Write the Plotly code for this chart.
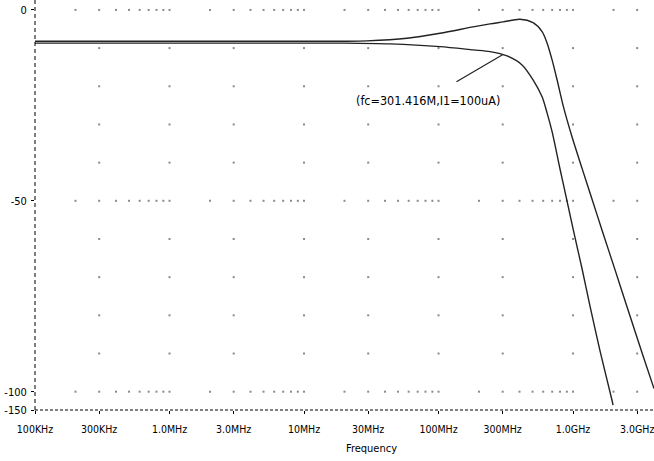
import math
import plotly.graph_objects as go

# Frequency response of the filter, two bias settings (dB vs Hz)
freq_peak = [1e5, 1e6, 1e7, 20e6, 29.4e6, 58.3e6, 102.6e6, 180.7e6, 241.5e6, 302e6,
             403.7e6, 504.5e6, 588.8e6, 641e6, 698.8e6, 760.8e6, 843.3e6, 984e6,
             1.167e9, 1.385e9, 1.671e9, 2.053e9, 2.653e9, 3.314e9, 4.0e9]
gain_peak = [-8.2, -8.2, -8.2, -8.2, -8.1, -7.41, -6.10, -4.45, -3.66, -3.14,
             -2.43, -3.35, -5.68, -8.64, -13.09, -18.3, -25.0, -33.3,
             -41.5, -49.6, -58.5, -68.1, -80.2, -90.6, -99.2]

freq_fc = [1e5, 1e6, 1e7, 20e6, 43.6e6, 102.6e6, 180.7e6, 241.5e6, 323e6, 417.9e6,
           504.5e6, 588.8e6, 641e6, 698.8e6, 799.6e6, 901.9e6, 1.0e9, 1.167e9,
           1.336e9, 1.587e9, 1.951e9, 1.983e9]
gain_fc = [-8.7, -8.7, -8.7, -8.7, -8.9, -9.61, -10.47, -10.92, -12.04, -14.40,
           -18.32, -22.77, -26.96, -31.9, -41.6, -50.0, -57.3, -67.8,
           -77.5, -89.3, -102.3, -103.5]

# Marker annotation on the fc curve
fc_freq = 301.416e6
fc_gain = -11.7
fc_text = "(fc=301.416M,I1=100uA)"

# Axis ticks
x_tickvals = [1e5, 3e5, 1e6, 3e6, 1e7, 3e7, 1e8, 3e8, 1e9, 3e9]
x_ticktext = ["100KHz", "300KHz", "1.0MHz", "3.0MHz", "10MHz", "30MHz",
              "100MHz", "300MHz", "1.0GHz", "3.0GHz"]
y_bottom = -104.8
y_top = 2.6
y_tickvals = [0, -50, -100, y_bottom]
y_ticktext = ["0", "-50", "-100", "-150"]
x_title = "Frequency"

LOG_MIN, LOG_MAX = 5.0, 9.602

# Dotted grid: major columns on every 10 dB row, all decade steps on 0/-50/-100
grid_x, grid_y = [], []
for row in range(0, -101, -10):
    full = row in (0, -50, -100)
    for dec in range(5, 10):
        mults = range(1, 10) if full else (1, 3)
        for m in mults:
            f = m * 10 ** dec
            if f <= 1e5 or f > 10 ** LOG_MAX:
                continue
            grid_x.append(f)
            grid_y.append(row)

font_family = "Liberation Sans Narrow, DejaVu Sans Condensed, Liberation Sans, Arial"

fig = go.Figure()
fig.add_trace(go.Scatter(x=grid_x, y=grid_y, mode="markers",
                         marker=dict(symbol="square", size=2, color="#8a8a8a", line=dict(width=0)),
                         hoverinfo="skip", showlegend=False))
for fx, gy in ((freq_peak, gain_peak), (freq_fc, gain_fc)):
    fig.add_trace(go.Scatter(x=fx, y=gy, mode="lines",
                             line=dict(color="#222222", width=1.4, shape="spline", smoothing=0.8),
                             showlegend=False))

# dashed axis lines
fig.add_shape(type="line", xref="paper", yref="paper", x0=0, x1=0, y0=0, y1=1,
              line=dict(color="black", width=1, dash="4px,3px"))
fig.add_shape(type="line", xref="paper", yref="paper", x0=0, x1=1, y0=0, y1=0,
              line=dict(color="black", width=1, dash="3px,2px"))
fig.add_shape(type="line", xref="paper", yref="paper", x0=-0.044, x1=-0.034, y0=1.004, y1=1.004,
              line=dict(color="black", width=2))

fig.add_annotation(x=math.log10(fc_freq), y=fc_gain, xref="x", yref="y", text="",
                   showarrow=True, arrowhead=0, arrowwidth=1.2, arrowcolor="#222222",
                   ax=-48, ay=28, standoff=0)
fig.add_annotation(x=7.925, y=-23.6, xref="x", yref="y", text=fc_text, showarrow=False,
                   font=dict(family=font_family, size=12.5, color="black"))
fig.add_annotation(x=0.543, y=-0.093, xref="paper", yref="paper", text=x_title, showarrow=False,
                   yanchor="middle", font=dict(family=font_family, size=11, color="black"))

fig.update_xaxes(type="log", range=[LOG_MIN, LOG_MAX], tickvals=x_tickvals, ticktext=x_ticktext,
                 showgrid=False, zeroline=False, showline=False, ticks="outside", ticklen=3,
                 tickcolor="black", ticklabelstandoff=6, ticklabeloverflow="allow",
                 tickfont=dict(family=font_family, size=10.5, color="black"))
fig.update_yaxes(range=[y_bottom, y_top], tickvals=y_tickvals, ticktext=y_ticktext,
                 showgrid=False, zeroline=False, showline=False, ticks="outside", ticklen=3,
                 tickcolor="black", ticklabelstandoff=2,
                 tickfont=dict(family=font_family, size=11, color="black"))

fig.update_layout(width=654, height=461, margin=dict(l=35, r=0, t=0, b=51),
                  plot_bgcolor="white", paper_bgcolor="white")

fig.write_html("out.html")
